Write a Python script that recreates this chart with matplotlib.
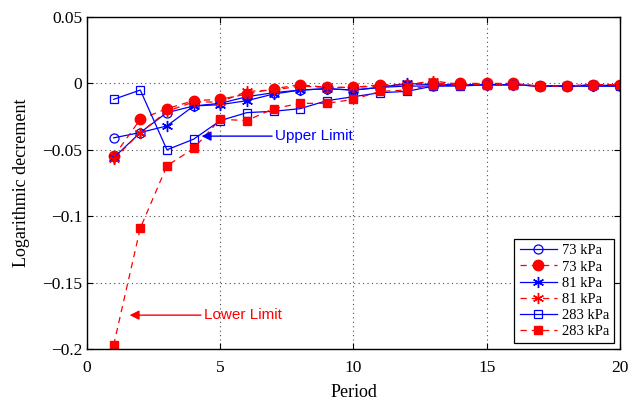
import numpy as np
import matplotlib
matplotlib.use('Agg')
import matplotlib.pyplot as plt
from matplotlib.ticker import FuncFormatter


# logarithmic decrement per period, three pressures, two limits each

period = np.arange(1, 21)

upper_73 = [-0.041, -0.037, -0.022, -0.017, -0.015, -0.010, -0.007, -0.005, -0.004, -0.005,
            -0.003, -0.002, -0.002, -0.001, -0.001, -0.001, -0.002, -0.002, -0.002, -0.002]
lower_73 = [-0.055, -0.027, -0.019, -0.013, -0.012, -0.008, -0.004, -0.001, -0.003, -0.003,
            -0.001, -0.001, 0.000, 0.000, 0.000, 0.000, -0.002, -0.002, -0.001, -0.001]
upper_81 = [-0.056, -0.037, -0.032, -0.017, -0.016, -0.013, -0.008, -0.005, -0.004, -0.005,
            -0.003, 0.000, -0.001, -0.001, -0.001, -0.001, -0.002, -0.002, -0.002, -0.002]
lower_81 = [-0.057, -0.037, -0.021, -0.014, -0.014, -0.006, -0.005, -0.002, -0.003, -0.003,
            -0.002, -0.001, 0.002, -0.001, -0.001, -0.001, -0.002, -0.002, -0.001, -0.001]
upper_283 = [-0.012, -0.005, -0.050, -0.042, -0.028, -0.022, -0.021, -0.019, -0.013, -0.010,
             -0.007, -0.006, -0.002, -0.002, -0.001, -0.001, -0.002, -0.002, -0.001, -0.002]
lower_283 = [-0.197, -0.109, -0.062, -0.049, -0.027, -0.028, -0.019, -0.015, -0.015, -0.012,
             -0.006, -0.005, -0.001, -0.001, -0.001, -0.001, -0.002, -0.002, -0.001, -0.001]

plt.rcParams['font.family'] = ['Liberation Serif', 'DejaVu Serif']
plt.rcParams['axes.unicode_minus'] = True

fig = plt.figure(figsize=(6.29, 4.07), dpi=100)
ax = fig.add_axes([0.1383, 0.1425, 0.8474, 0.8157])

blue = (0, 0, 1)
red = (1, 0, 0)
lw = 0.9
star = (6, 2, 0)

ax.plot(period, upper_73, '-', color=blue, lw=lw, marker='o', ms=6.5,
        mfc='none', mec=blue, mew=0.9, label='73 kPa')
ax.plot(period, lower_73, '--', color=red, lw=lw, marker='o', ms=7.5,
        mfc=red, mec=red, label='73 kPa', dashes=(5, 4))
ax.plot(period, upper_81, '-', color=blue, lw=lw, marker=star, ms=8,
        mfc=blue, mec=blue, mew=1.0, label='81 kPa')
ax.plot(period, lower_81, '--', color=red, lw=lw, marker=star, ms=8,
        mfc=red, mec=red, mew=1.0, label='81 kPa', dashes=(5, 4))
ax.plot(period, upper_283, '-', color=blue, lw=lw, marker='s', ms=6,
        mfc='none', mec=blue, mew=0.9, label='283 kPa')
ax.plot(period, lower_283, '--', color=red, lw=lw, marker='s', ms=6,
        mfc=red, mec=red, label='283 kPa', dashes=(5, 4))

ax.set_xlim(0, 20)
ax.set_ylim(-0.2, 0.05)
ax.set_xticks([0, 5, 10, 15, 20])
ax.set_yticks([-0.2, -0.15, -0.1, -0.05, 0, 0.05])
ax.yaxis.set_major_formatter(FuncFormatter(lambda v, p: f'{v:g}'.replace('-', '\u2212')))
ax.tick_params(direction='in', top=True, right=True, labelsize=12.5, length=4, width=0.8)
ax.tick_params(axis='x', pad=8)
ax.grid(True, linestyle=(0, (1, 3)), color='0.3', lw=0.8)
for s in ax.spines.values():
    s.set_linewidth(1.0)

ax.set_xlabel('Period', fontsize=13, labelpad=6)
ax.set_ylabel('Logarithmic decrement', fontsize=13, labelpad=9)

ax.annotate('Upper Limit', xy=(4.3, -0.0397), xytext=(7.05, -0.0397),
            va='center', ha='left', color=blue, fontsize=11, family='Liberation Sans',
            arrowprops=dict(arrowstyle='-|>', color=blue, lw=1, mutation_scale=14,
                            shrinkA=0, shrinkB=0))
ax.annotate('Lower Limit', xy=(1.6, -0.1745), xytext=(4.38, -0.1745),
            va='center', ha='left', color=red, fontsize=11, family='Liberation Sans',
            arrowprops=dict(arrowstyle='-|>', color=red, lw=1, mutation_scale=14,
                            shrinkA=0, shrinkB=0))

leg = ax.legend(loc='lower right', fontsize=10.5, handlelength=2.6, labelspacing=0.2,
                handletextpad=0.3, borderpad=0.35, borderaxespad=0.4,
                fancybox=False, framealpha=1, edgecolor='black')
leg.get_frame().set_linewidth(0.9)

plt.savefig('out.png', dpi=100)
